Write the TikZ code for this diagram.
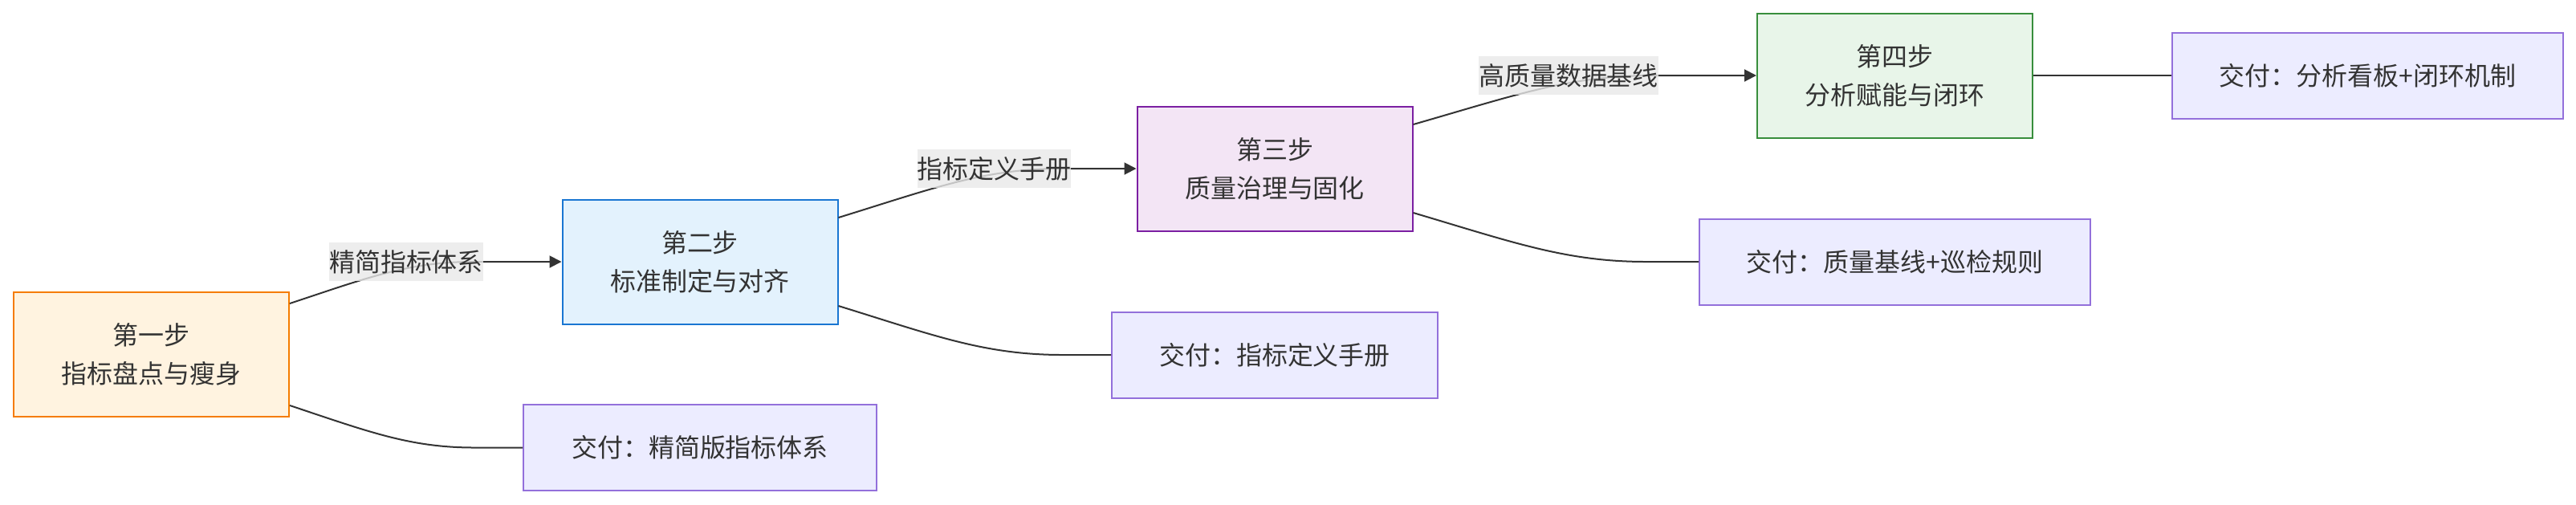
\documentclass[tikz,border=0pt]{standalone}
\usepackage{fontspec}
\newfontfamily\cjk{Noto Sans CJK SC}
\usetikzlibrary{arrows.meta,calc}
\definecolor{inkc}{HTML}{333333}
\definecolor{onefill}{HTML}{FFF3E0}
\definecolor{oneline}{HTML}{F57C00}
\definecolor{twofill}{HTML}{E3F2FD}
\definecolor{twoline}{HTML}{1976D2}
\definecolor{threefill}{HTML}{F3E5F5}
\definecolor{threeline}{HTML}{7B1FA2}
\definecolor{fourfill}{HTML}{E8F5E9}
\definecolor{fourline}{HTML}{388E3C}
\definecolor{outfill}{HTML}{ECECFF}
\definecolor{outline}{HTML}{9370DB}
\definecolor{tagfill}{HTML}{E8E8E8}
\tikzset{
  stepbox/.style={draw, line width=0.02cm, minimum width=3.43cm, minimum height=1.55cm,
    align=center, text=inkc, font=\cjk\fontsize{9.1pt}{13.66pt}\selectfont},
  outbox/.style={draw=outline, fill=outfill, line width=0.02cm, minimum height=1.07cm,
    text=inkc, font=\cjk\fontsize{9.1pt}{13.66pt}\selectfont},
  tag/.style={fill=tagfill, fill opacity=0.8, text opacity=1, inner xsep=0pt, inner ysep=0pt,
    minimum height=0.48cm, text=inkc, font=\cjk\fontsize{9.1pt}{13.66pt}\selectfont},
  link/.style={inkc, line width=0.02cm},
  arrowlink/.style={link, -{Triangle[length=0.15cm, width=0.15cm]}}
}
\begin{document}
\begin{tikzpicture}
  \useasboundingbox (0,0) rectangle (32.09,-6.28);
  \node[stepbox, fill=onefill, draw=oneline] (s1) at (1.885,-4.415) {第一步\\指标盘点与瘦身};
  \node[stepbox, fill=twofill, draw=twoline] (s2) at (8.72,-3.26) {第二步\\标准制定与对齐};
  \node[stepbox, fill=threefill, draw=threeline] (s3) at (15.88,-2.10) {第三步\\质量治理与固化};
  \node[stepbox, fill=fourfill, draw=fourline] (s4) at (23.605,-0.94) {第四步\\分析赋能与闭环};
  \node[outbox, minimum width=4.40cm] (d1) at (8.72,-5.575) {交付：精简版指标体系};
  \node[outbox, minimum width=4.06cm] (d2) at (15.88,-4.42) {交付：指标定义手册};
  \node[outbox, minimum width=4.87cm] (d3) at (23.605,-3.26) {交付：质量基线+巡检规则};
  \node[outbox, minimum width=4.87cm] (d4) at (29.495,-0.94) {交付：分析看板+闭环机制};
  \draw[arrowlink] ([yshift=0.635cm]s1.east) .. controls +(0.99,0.33) and +(-0.8,0) .. ($(s2.west)+(-1.09,0)$) -- (s2.west);
  \draw[link] ([yshift=-0.635cm]s1.east) .. controls +(0.99,-0.33) and +(-0.8,0) .. ($(d1.west)+(-0.60,0)$) -- (d1.west);
  \draw[arrowlink] ([yshift=0.55cm]s2.east) .. controls +(1.2,0.37) and +(-0.98,0) .. ($(s3.west)+(-0.92,0)$) -- (s3.west);
  \draw[link] ([yshift=-0.55cm]s2.east) .. controls +(1.2,-0.37) and +(-0.98,0) .. ($(d2.west)+(-0.60,0)$) -- (d2.west);
  \draw[arrowlink] ([yshift=0.55cm]s3.east) .. controls +(1.29,0.37) and +(-1.05,0) .. ($(s4.west)+(-1.28,0)$) -- (s4.west);
  \draw[link] ([yshift=-0.55cm]s3.east) .. controls +(1.25,-0.37) and +(-1.0,0) .. ($(d3.west)+(-0.65,0)$) -- (d3.west);
  \draw[link] (s4.east) -- (d4.west);
  \node[tag] (t12) at (5.06,-3.26) {精简指标体系};
  \node[tag] (t23) at (12.385,-2.10) {指标定义手册};
  \node[tag] (t34) at (19.54,-0.94) {高质量数据基线};
\end{tikzpicture}
\end{document}
